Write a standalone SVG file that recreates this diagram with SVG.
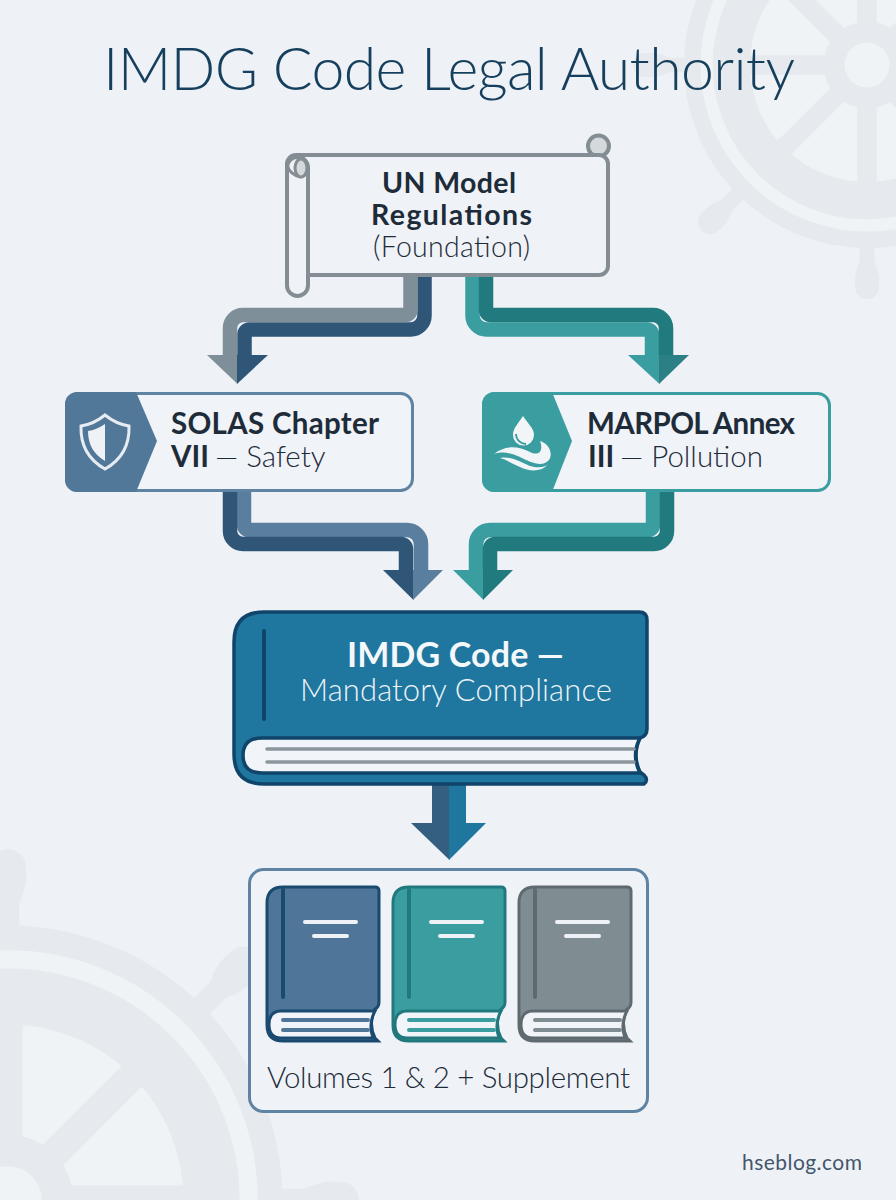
<svg xmlns="http://www.w3.org/2000/svg" width="896" height="1200" viewBox="0 0 896 1200">
<style>
text{font-family:"Lato","Open Sans","Liberation Sans",sans-serif;}
.title{font-size:59px;font-weight:300;fill:#153f5c;}
.b{font-weight:700;fill:#1e2c3a;}
.l{font-weight:300;fill:#1e2c3a;}
.lab{font-size:29.5px;}
.rib{fill:none;stroke-width:14.5;}
.w-d{fill:none;stroke:#e6eaee;}
.w-l{fill:none;stroke:#eff3f6;}
.line{fill:none;stroke-linecap:round;}
</style>
<defs>
<path id="handle" fill="#e6eaee" d="M-5,-118V-132Q-9,-140 -8,-148A8,8 0 0 1 8,-148Q9,-140 5,-132V-118Z"/>
<g id="wheel">
<circle r="78" fill="#eff3f6"/>
<path class="w-d" stroke-width="13" d="M0,-80V80M-80,0H80M-57,-57L57,57M-57,57L57,-57"/>
<circle r="73" class="w-l" stroke-width="8" stroke-dasharray="38 19.33" stroke-dashoffset="-9.5"/>
<circle r="90.500" class="w-d" stroke-width="25"/>
<circle r="107" class="w-l" stroke-width="8"/>
<circle r="116.500" class="w-d" stroke-width="11"/>
<use href="#handle"/>
<use href="#handle" transform="rotate(45)"/>
<use href="#handle" transform="rotate(90)"/>
<use href="#handle" transform="rotate(135)"/>
<use href="#handle" transform="rotate(180)"/>
<use href="#handle" transform="rotate(225)"/>
<use href="#handle" transform="rotate(270)"/>
<use href="#handle" transform="rotate(315)"/>
<circle r="29" fill="#e6eaee"/>
<circle r="15" fill="#eff3f6"/>
</g>
<path id="bk-cover" d="M18,2H110Q114,2 114,6V117Q114,122 110,124Q103,139 110,153L113,156H18Q2,156 2,140V18Q2,2 18,2Z"/>
<path id="bk-pages" d="M16,126H110Q103,139 108,153H16Q4,153 4,139.5Q4,126 16,126Z"/>
</defs>
<rect id="background" width="896" height="1200" fill="#eef2f7"/>
<g id="watermarks">
<use href="#wheel" transform="translate(867,65) scale(1.5)"/>
<use href="#wheel" transform="translate(8,1200) scale(2.25)"/>
</g>
<text id="title" class="title" x="103" y="90" textLength="692" lengthAdjust="spacing">IMDG Code Legal Authority</text>
<g id="connectors">
<g id="c-un-solas">
<path class="rib" stroke="#2f5577" d="M424.5,270V315.5A14,14 0 0 1 410.5,329.5H249.5A5,5 0 0 0 244.5,334.5V356"/>
<path class="rib" stroke="#7f8f99" d="M410.5,270V310A5,5 0 0 1 405.5,315H243A13,13 0 0 0 230,328V356"/>
<polygon fill="#7f8f99" points="207,355 237.5,355 237.5,384"/>
<polygon fill="#2f5577" points="237,355 268,355 237,384"/>
</g>
<g id="c-un-marpol">
<path class="rib" stroke="#3a9ea1" d="M472.5,270V315.5A14,14 0 0 0 486.5,329.5H647A5,5 0 0 1 652,334.5V356"/>
<path class="rib" stroke="#217a7e" d="M486,270V310A5,5 0 0 0 491,315H653A13,13 0 0 1 666,328V356"/>
<polygon fill="#3a9ea1" points="628,355 659.5,355 659.5,384"/>
<polygon fill="#2a8085" points="659,355 689,355 659,384"/>
</g>
<g id="c-solas-imdg">
<path class="rib" stroke="#5a7e9e" d="M244,490V525A5,5 0 0 0 249,530H407A14,14 0 0 1 421,544V571"/>
<path class="rib" stroke="#2f5577" d="M230,490V531A13,13 0 0 0 243,544H401A5,5 0 0 1 406,549V571"/>
<polygon fill="#2f5577" points="383,570 413.5,570 413.5,600"/>
<polygon fill="#5a7e9e" points="413,570 443,570 413,600"/>
</g>
<g id="c-marpol-imdg">
<path class="rib" stroke="#3a9ea1" d="M653,490V525A5,5 0 0 1 648,530H490A14,14 0 0 0 476,544V571"/>
<path class="rib" stroke="#217a7e" d="M667,490V531A13,13 0 0 1 654,544H495A5,5 0 0 0 490,549V571"/>
<polygon fill="#3a9ea1" points="453,570 483.5,570 483.5,600"/>
<polygon fill="#217a7e" points="483,570 513,570 483,600"/>
</g>
<g id="c-imdg-volumes">
<rect x="427" y="775" width="22.5" height="9" fill="#355f80"/>
<rect x="449" y="775" width="21" height="9" fill="#1f769f"/>
<rect x="432" y="784" width="18" height="40" fill="#355f80"/>
<rect x="449" y="784" width="17" height="40" fill="#1f769f"/>
<polygon fill="#355f80" points="411,823 449.5,823 449.5,860"/>
<polygon fill="#1f769f" points="449,823 486,823 449,860"/>
</g>
</g>
<g id="node-un">
<circle cx="598.500" cy="146" r="10.500" fill="#d4d9dc" stroke="#838d93" stroke-width="4"/>
<rect x="287" y="155" width="321" height="120" rx="9" fill="#eff2f6" stroke="#838d93" stroke-width="4"/>
<rect x="287" y="157" width="21" height="139" rx="10.5" fill="#eff2f6" stroke="#838d93" stroke-width="4"/>
<path d="M287,165Q290,175 301,177" fill="none" stroke="#838d93" stroke-width="3"/>
<ellipse cx="301" cy="168" rx="6" ry="9" fill="#d4d9dc" stroke="#838d93" stroke-width="3"/>
<text class="b" font-size="28.500" text-anchor="middle" x="449" y="193" textLength="134" lengthAdjust="spacing">UN Model</text>
<text class="b" font-size="28.500" text-anchor="middle" x="451.5" y="225" textLength="161" lengthAdjust="spacing">Regulations</text>
<text class="l" font-size="28.500" text-anchor="middle" x="451.5" y="257" textLength="157" lengthAdjust="spacing">(Foundation)</text>
</g>
<g id="node-solas">
<rect x="66.5" y="393.5" width="346" height="97" rx="12" fill="#f0f3f7" stroke="#5f84a3" stroke-width="3"/>
<path d="M136,392H77A12,12 0 0 0 65,404V480A12,12 0 0 0 77,492H136L157,441Z" fill="#517899"/>
<path d="M105,415Q116,424 129,426Q130,455 105,469Q80,455 81,426Q94,424 105,415Z" fill="none" stroke="#e6ecf2" stroke-width="3"/>
<path d="M105,424Q96,430 88,431Q88,451 105,461Z" fill="#eef2f7"/>
<text class="b lab" x="171" y="434" textLength="208" lengthAdjust="spacing">SOLAS Chapter</text>
<text class="lab" y="467"><tspan class="b" x="171">VII</tspan><tspan class="l" x="215">— Safety</tspan></text>
</g>
<g id="node-marpol">
<rect x="483.5" y="393.5" width="346" height="97" rx="12" fill="#f0f3f7" stroke="#3a9ea1" stroke-width="3"/>
<path d="M552,392H494A12,12 0 0 0 482,404V480A12,12 0 0 0 494,492H552L572,441Z" fill="#3a9ea1"/>
<path d="M523,416C518,424 513,428 513,435A10.5,10.5 0 0 0 534,435C534,428 528,424 523,416Z" fill="#f2f5f8"/>
<path d="M516,434C516,440 521,444 526,444" fill="none" stroke="#3a9ea1" stroke-width="1.8"/>
<path d="M494,454C505,445 518,446 530,452C538,456 544,452 540,441C550,444 553,454 549,460C542,468 530,462 520,457C511,453 503,451 494,454Z" fill="#f2f5f8"/>
<path d="M500,458C512,456 520,462 530,466C537,468 545,468 548,464C542,472 530,472 520,467C513,464 507,460 500,458Z" fill="#f2f5f8"/>
<text class="b lab" x="587" y="434" textLength="208" lengthAdjust="spacing">MARPOL Annex</text>
<text class="lab" y="467"><tspan class="b" x="588">III</tspan><tspan class="l" x="620">— Pollution</tspan></text>
</g>
<g id="node-imdg">
<path d="M264,612H639Q647,612 647,620V729Q647,736 640,738Q632,755 640,772L644,775Q649,780 644,784H264Q234,784 234,754V642Q234,612 264,612Z" fill="#1f769f" stroke="#11446a" stroke-width="3.5"/>
<path d="M262,738H640Q631,755 640,773H262Q243,773 243,755.500Q243,738 262,738Z" fill="#f1f4f8" stroke="#11446a" stroke-width="3.500"/>
<path class="line" stroke="#11446a" stroke-width="4" d="M264,631V719"/>
<path stroke="#8b959c" stroke-width="3.500" stroke-linecap="round" d="M267,749H634M267,762H634"/>
<text font-size="34" font-weight="700" fill="#f5f8fb" text-anchor="middle" x="455.5" y="667" textLength="217" lengthAdjust="spacing">IMDG Code —</text>
<text font-size="31" font-weight="300" fill="#eef4f8" text-anchor="middle" x="456" y="701" textLength="312" lengthAdjust="spacing">Mandatory Compliance</text>
</g>
<g id="node-volumes">
<rect x="249.500" y="869.500" width="398" height="242" rx="14" fill="#eff3f7" stroke="#5f84a3" stroke-width="3"/>
<g id="book-1" transform="translate(265,885)">
<use href="#bk-cover" fill="#4f7599" stroke="#1a4a70" stroke-width="3"/>
<use href="#bk-pages" fill="#f1f4f8" stroke="#1a4a70" stroke-width="3"/>
<path class="line" stroke="#1a4a70" stroke-width="4" d="M18,5V112"/>
<path class="line" stroke="#eef2f7" stroke-width="4" d="M40,37H91M49,51H82"/>
<path class="line" stroke="#4f7599" stroke-width="4" d="M18,135H103M18,145H103"/>
</g>
<g id="book-2" transform="translate(391,885)">
<use href="#bk-cover" fill="#3a9ea1" stroke="#22797d" stroke-width="3"/>
<use href="#bk-pages" fill="#f1f4f8" stroke="#22797d" stroke-width="3"/>
<path class="line" stroke="#22797d" stroke-width="4" d="M18,5V112"/>
<path class="line" stroke="#eef2f7" stroke-width="4" d="M40,37H91M49,51H82"/>
<path class="line" stroke="#3a9ea1" stroke-width="4" d="M18,135H103M18,145H103"/>
</g>
<g id="book-3" transform="translate(517,885)">
<use href="#bk-cover" fill="#7f8d93" stroke="#5f6a70" stroke-width="3"/>
<use href="#bk-pages" fill="#f1f4f8" stroke="#5f6a70" stroke-width="3"/>
<path class="line" stroke="#5f6a70" stroke-width="4" d="M18,5V112"/>
<path class="line" stroke="#eef2f7" stroke-width="4" d="M40,37H91M49,51H82"/>
<path class="line" stroke="#7f8d93" stroke-width="4" d="M18,135H103M18,145H103"/>
</g>
<text class="l" font-size="29.500" x="267" y="1088" textLength="363" lengthAdjust="spacing">Volumes 1 &amp; 2 + Supplement</text>
</g>
<text id="credit" font-size="21" fill="#44566a" x="742" y="1170" textLength="120" lengthAdjust="spacing">hseblog.com</text>
</svg>
